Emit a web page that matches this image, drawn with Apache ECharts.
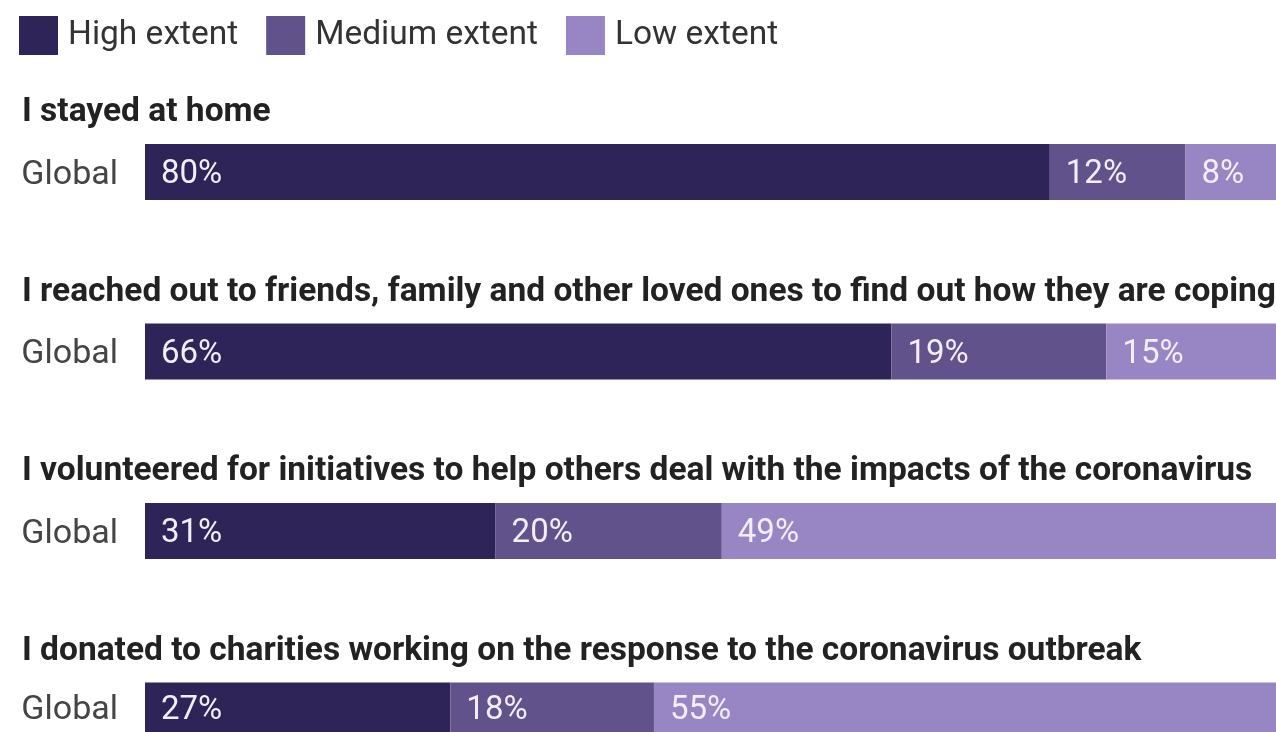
<!DOCTYPE html>
<html>
<head>
<meta charset="utf-8">
<script src="https://cdn.jsdelivr.net/npm/echarts@6/dist/echarts.min.js"></script>
<style>
  html, body { margin: 0; padding: 0; background: #fff; }
  #chart { width: 1276px; height: 732px; }
</style>
</head>
<body>
<div id="chart"></div>
<script>
// Survey statements, one panel each
const statements = [
  'I stayed at home',
  'I reached out to friends, family and other loved ones to find out how they are coping',
  'I volunteered for initiatives to help others deal with the impacts of the coronavirus',
  'I donated to charities working on the response to the coronavirus outbreak'
];
const rowLabels = ['Global'];
const levelNames = ['High extent', 'Medium extent', 'Low extent'];
const highValues = [80, 66, 31, 27];
const mediumValues = [12, 19, 20, 18];
const lowValues = [8, 15, 49, 55];

const levelColors = ['#2e2457', '#62528c', '#9886c4'];
const levelValues = [highValues, mediumValues, lowValues];

const FONT = 'Roboto, "Noto Sans", sans-serif';
const panelTop = 144;
const panelStep = 179.5;
const barHeight = 56;

const grids = [], xAxes = [], yAxes = [], titles = [], series = [];
statements.forEach((text, i) => {
  const top = panelTop + i * panelStep;
  grids.push({ left: 145, right: 0, top: top, height: barHeight, containLabel: false });
  xAxes.push({ type: 'value', gridIndex: i, min: 0, max: 100, show: false });
  yAxes.push({
    type: 'category', gridIndex: i, data: rowLabels,
    axisLine: { show: false }, axisTick: { show: false },
    axisLabel: {
      margin: 27,
      formatter: v => '{g|' + v + '}',
      rich: { g: { color: '#444', fontSize: 34, fontFamily: FONT, padding: [6, 0, 0, 0] } }
    }
  });
  titles.push({
    text: text, left: 22, top: top - 48, padding: 0,
    textStyle: { color: '#222', fontSize: 33.5, fontWeight: 'bold', fontFamily: FONT }
  });
  levelNames.forEach((name, k) => {
    series.push({
      name: name, type: 'bar', stack: 'p' + i,
      xAxisIndex: i, yAxisIndex: i,
      barWidth: '100%',
      data: [levelValues[k][i]],
      itemStyle: { color: levelColors[k] },
      label: {
        show: true, position: 'insideLeft', distance: 16, offset: [0, 3],
        formatter: '{c}%', color: '#f1eef7', fontSize: 33, fontFamily: FONT
      },
      emphasis: { disabled: true },
      animation: false
    });
  });
});

const chart = echarts.init(document.getElementById('chart'));
chart.setOption({
  backgroundColor: '#fff',
  animation: false,
  title: titles,
  legend: {
    data: levelNames, left: 19, top: 16, padding: 0,
    icon: 'rect', itemWidth: 39, itemHeight: 39, itemGap: 28,
    textStyle: { color: '#333', fontSize: 33.5, fontFamily: FONT, padding: [4, 0, 0, 5] }
  },
  grid: grids,
  xAxis: xAxes,
  yAxis: yAxes,
  series: series
});
</script>
</body>
</html>
